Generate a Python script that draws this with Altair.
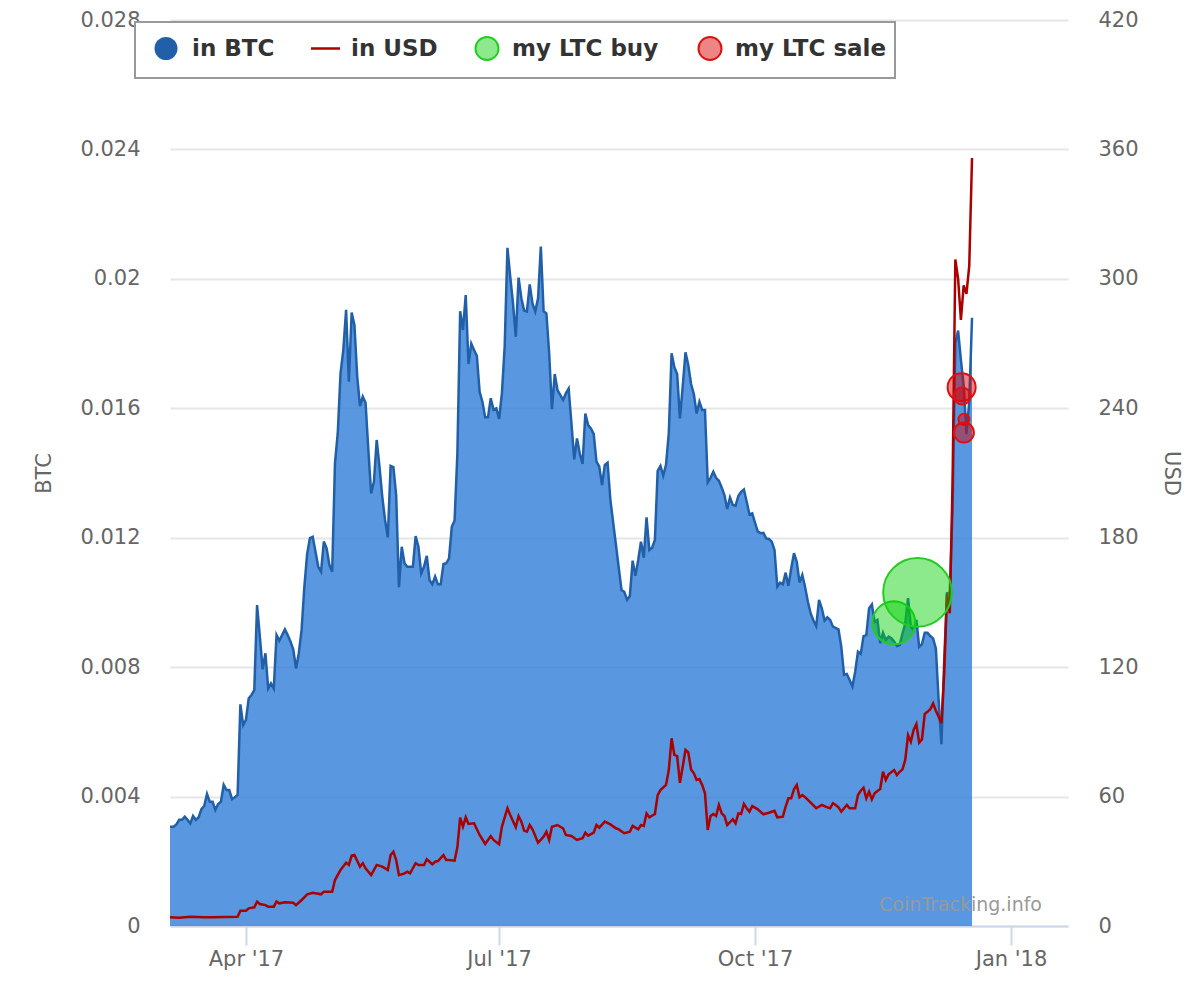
import altair as alt
import pandas as pd

# ---------------- data (days counted from 2017-03-01) ----------------
btc_days = [3.7, 5, 6, 7, 8, 9, 10, 11, 12, 13, 14, 15, 16, 17, 18, 19, 20, 21, 22, 23, 24, 25, 26, 27, 28,
            29, 30, 31, 32, 33, 34, 35, 36, 37, 38, 39, 40, 41, 42, 43, 44, 45, 46, 47, 48, 49, 50, 51, 52,
            53, 54, 55, 57, 58, 59, 60, 61, 62, 63, 64, 65, 66, 67, 68, 69, 70, 71, 72, 73, 74, 75, 76, 77,
            78, 79, 80, 81, 82, 83, 84, 85, 86, 87, 88, 89, 91, 92, 93, 94, 95, 96, 97, 98, 99, 100, 101,
            102, 103, 104, 105, 106, 107, 108, 109, 110, 111, 112, 113, 114, 115, 116, 117, 118, 119, 120,
            121, 122, 123, 124, 125, 126, 127, 128, 129, 130, 131, 132, 133, 134, 135, 136, 137, 138, 139,
            140, 141, 142, 143, 144, 145, 146, 147, 148, 149, 150, 151, 152, 153, 154, 155, 156, 157, 158,
            159, 160, 161, 162, 164, 166, 167, 168, 169, 170, 171, 172, 173, 174, 175, 176, 177, 178, 179,
            180, 181, 182, 183, 184, 185, 186, 187, 188, 189, 190, 191, 192, 193, 194, 195, 196, 197, 198,
            199, 200, 201, 202, 203, 204, 205, 206, 207, 208, 209, 210, 211, 212, 213, 214, 215, 216, 217,
            218, 219, 220, 221, 222, 223, 224, 225, 226, 227, 228, 229, 230, 231, 232, 233, 234, 235, 236,
            237, 238, 239, 240, 241, 242, 244, 245, 246, 247, 248, 249, 250, 251, 252, 253, 254, 255, 256,
            257, 258, 259, 260, 261, 262, 263, 264, 265, 266, 267, 268, 269, 270, 271, 272, 273, 274, 275,
            276, 277, 278, 279, 280, 281, 282, 283, 284, 285, 286, 287, 288, 289, 290, 291, 292]
btc_values = [0.00307, 0.00307, 0.00314, 0.00328, 0.00328, 0.00338, 0.00328, 0.00317, 0.0034, 0.00328,
              0.00336, 0.00361, 0.00371, 0.00408, 0.00384, 0.00384, 0.00359, 0.00377, 0.00384, 0.00436,
              0.0042, 0.0042, 0.00392, 0.00398, 0.00405, 0.00685, 0.00621, 0.00637, 0.00704, 0.00714,
              0.00729, 0.00992, 0.00894, 0.00793, 0.00843, 0.00734, 0.0075, 0.00734, 0.00899, 0.00882,
              0.00899, 0.00917, 0.00899, 0.00879, 0.00855, 0.00796, 0.00843, 0.00915, 0.01049, 0.0115,
              0.01199, 0.01203, 0.0111, 0.01095, 0.01188, 0.01167, 0.01116, 0.01095, 0.0143, 0.01523,
              0.01708, 0.0178, 0.01904, 0.01682, 0.01896, 0.01857, 0.01698, 0.01607, 0.01636, 0.01617,
              0.01471, 0.01337, 0.01373, 0.01502, 0.0142, 0.01327, 0.01255, 0.01201, 0.01422, 0.01418,
              0.01332, 0.01047, 0.01172, 0.01121, 0.0111, 0.0111, 0.01205, 0.01172, 0.0109, 0.0111,
              0.01144, 0.01069, 0.01056, 0.0108, 0.01056, 0.01056, 0.01119, 0.01121, 0.01136, 0.01234,
              0.01253, 0.0146, 0.019, 0.01842, 0.0195, 0.01737, 0.018, 0.0178, 0.01762, 0.01651, 0.0162,
              0.01572, 0.01572, 0.01631, 0.01595, 0.016, 0.01567, 0.01646, 0.0179, 0.02096, 0.02007,
              0.01924, 0.01821, 0.02004, 0.0194, 0.01902, 0.01899, 0.01983, 0.01924, 0.01899, 0.0194,
              0.021, 0.019, 0.01893, 0.0177, 0.01597, 0.01706, 0.01656, 0.01641, 0.01626, 0.01646,
              0.01661, 0.01554, 0.01442, 0.01507, 0.0146, 0.01428, 0.01584, 0.01548, 0.01538, 0.01521,
              0.01435, 0.0142, 0.01363, 0.01425, 0.01432, 0.01317, 0.01178, 0.01038, 0.01033, 0.01008,
              0.0102, 0.01129, 0.01082, 0.01131, 0.01188, 0.01138, 0.01263, 0.01162, 0.01169, 0.01193,
              0.01407, 0.01422, 0.01392, 0.01425, 0.01523, 0.0177, 0.01727, 0.01706, 0.01569, 0.01667,
              0.01773, 0.01734, 0.01675, 0.01644, 0.01584, 0.0162, 0.01595, 0.01595, 0.01371, 0.01385,
              0.01404, 0.01385, 0.01376, 0.01355, 0.01332, 0.01289, 0.01324, 0.01301, 0.01299, 0.01329,
              0.01342, 0.01349, 0.01311, 0.01272, 0.01275, 0.01246, 0.01219, 0.01214, 0.01215, 0.01198,
              0.01196, 0.01188, 0.01162, 0.01049, 0.01061, 0.01056, 0.01092, 0.01051, 0.01105, 0.01152,
              0.01126, 0.01061, 0.01085, 0.01047, 0.01002, 0.00966, 0.00944, 0.00927, 0.01008, 0.00982,
              0.00944, 0.00954, 0.00946, 0.00925, 0.00917, 0.00863, 0.00776, 0.00779, 0.0076, 0.0074,
              0.00786, 0.00848, 0.00841, 0.00896, 0.00899, 0.00982, 0.00994, 0.0094, 0.00946, 0.00874,
              0.00906, 0.00884, 0.00894, 0.00889, 0.00879, 0.00865, 0.00868, 0.00904, 0.00935, 0.01013,
              0.00925, 0.00915, 0.00946, 0.00863, 0.00871, 0.00906, 0.00906, 0.00896, 0.00889, 0.00858,
              0.00698, 0.00562, 0.00822, 0.01028, 0.0103, 0.0129, 0.018, 0.0184, 0.0175, 0.0167, 0.0152,
              0.0162, 0.0188]

usd_days = [3.7, 7, 11, 16, 19, 28, 29, 31, 32, 34, 35, 36, 38, 39, 41, 42, 43, 45, 48, 49, 51, 53, 55, 58,
            59, 62, 63, 65, 67, 68, 69, 70, 72, 73, 74, 76, 78, 80, 82, 83, 84, 85, 86, 88, 89, 90, 92, 93,
            95, 96, 97, 98, 99, 100, 102, 103, 104, 106, 107, 108, 109, 110, 111, 113, 115, 117, 119, 120,
            122, 123, 125, 126, 128, 129, 130, 131, 132, 133, 134, 136, 138, 139, 140, 141, 143, 144, 145,
            146, 148, 150, 152, 153, 154, 156, 157, 158, 160, 162, 164, 165, 167, 169, 170, 172, 173, 174,
            175, 176, 178, 179, 180, 182, 183, 184, 185, 186, 187, 188, 189, 190, 191, 192, 193, 194, 195,
            196, 197, 198, 199, 200, 201, 202, 203, 204, 205, 206, 207, 208, 209, 210, 211, 212, 213, 215,
            217, 219, 221, 222, 224, 225, 226, 227, 228, 229, 230, 231, 232, 234, 236, 238, 240, 241, 242,
            243, 244, 245, 246, 247, 248, 250, 251, 252, 253, 254, 255, 256, 257, 258, 259, 260, 261, 262,
            264, 265, 266, 267, 268, 269, 270, 271, 272, 273, 274, 275, 276, 277, 278, 279, 280, 281, 282,
            283, 284, 285, 286, 287, 288, 289, 290, 291, 292]
usd_values = [4.03, 3.86, 4.33, 4.0, 4.0, 4.33, 7.1, 7.1, 8.2, 8.66, 11.3, 10.2, 9.7, 8.96, 8.96, 11.3,
              10.5, 11.0, 10.8, 9.7, 12.05, 14.7, 15.4, 14.7, 15.9, 15.9, 21.3, 26, 29.3, 28.3, 32.6, 32.9,
              27.5, 29.1, 26.7, 23.6, 28.3, 27.5, 26, 32.9, 34.4, 30.6, 23.6, 24.4, 25.2, 24.4, 29.1, 28.3,
              28.3, 30.9, 29.8, 28.6, 29.8, 30.1, 32.9, 30.6, 30.6, 30.3, 36.5, 50.2, 46, 50.4, 47.3, 47.6,
              42.2, 38, 41.7, 39.9, 37.9, 46, 54.6, 51.5, 45.8, 51, 48.4, 44.2, 43.7, 46.8, 44.8, 38.6,
              41.4, 43.7, 39.9, 46, 46.8, 46, 45.3, 42.2, 41.7, 39.9, 40.7, 43.3, 41.9, 43.3, 46.8, 45.6,
              48.4, 47.1, 45.3, 44.8, 43, 43.7, 46.4, 44.8, 46.8, 46.4, 52.2, 50.4, 51.9, 60.7, 63, 65.4,
              72.3, 87, 79.3, 78.8, 66.4, 73.8, 81.6, 80.5, 72.6, 70.8, 67.7, 68.1, 65.4, 61.5, 44.5, 51,
              51.9, 51, 56.1, 52.2, 51, 46.8, 48.1, 49.5, 47.6, 52.2, 51.9, 56.6, 54.6, 53, 55.6, 54.1,
              51.8, 52.5, 53.4, 50.4, 50.7, 55.3, 59.2, 59.2, 63.4, 65.4, 59.7, 60.7, 59.7, 57.2, 54.6,
              56.1, 55, 54.6, 56.9, 56.1, 55, 53, 54.6, 56.1, 54.6, 54.6, 60.7, 62.7, 64.1, 59.2, 62.3,
              58.7, 61.5, 62.6, 63.5, 71.5, 67.7, 70.3, 72.3, 70, 71.5, 72.6, 77, 88.5, 85.4, 90.9, 93.6,
              85, 86.5, 98.3, 99.3, 100.5, 103.2, 99.8, 97, 94, 117, 154, 145, 205, 309, 300, 281, 297,
              293, 306, 356]

buy_days = [263.9, 272.4]
buy_btc = [0.00937, 0.01031]
buy_amount = [3.93, 10.0]

sale_days = [288.26, 288.47, 289.08, 289.08]
sale_btc = [0.01665, 0.01638, 0.01566, 0.01525]
sale_amount = [1.67, 0.61, 0.26, 0.85]

btc_ticks = [0, 0.004, 0.008, 0.012, 0.016, 0.02, 0.024, 0.028]
usd_ticks = [0, 60, 120, 180, 240, 300, 360, 420]
month_ticks = ["2017-04-01", "2017-07-01", "2017-10-01", "2018-01-01"]
x_start_day = 3.7
x_end_day = 326.5
legend_labels = ["in BTC", "in USD", "my LTC buy", "my LTC sale"]
watermark = "CoinTracking.info"

# ---------------- helpers ----------------
origin = pd.Timestamp("2017-03-01")


def iso(days):
    return [(origin + pd.Timedelta(days=float(d))).strftime("%Y-%m-%dT%H:%M:%SZ") for d in days]


def ms(ts):
    return int(pd.Timestamp(ts).value // 10**6)


btc_df = pd.DataFrame({"date": iso(btc_days), "btc": btc_values})
usd_df = pd.DataFrame({"date": iso(usd_days), "usd": usd_values})
buy_df = pd.DataFrame({"date": iso(buy_days), "btc": buy_btc, "amount": buy_amount})
sale_df = pd.DataFrame({"date": iso(sale_days), "btc": sale_btc, "amount": sale_amount})
legend_df = pd.DataFrame({"label": legend_labels})
mark_df = pd.DataFrame({"label": [watermark]})

W, H = 898, 906
FONT = "DejaVu Sans"
LABEL = "#666666"

x_scale = alt.Scale(type="utc",
                    domain=[ms(origin + pd.Timedelta(days=x_start_day)),
                            ms(origin + pd.Timedelta(days=x_end_day))])
x_axis = alt.Axis(values=[ms(t) for t in month_ticks], format="%b '%y", title=None, grid=False,
                  domainColor="#ccd6eb", domainWidth=2, tickColor="#ccd6eb", tickWidth=2,
                  tickSize=19, labelPadding=3, labelFlush=False, labelOverlap=False)
X = alt.X("date:T", scale=x_scale, axis=x_axis)

btc_scale = alt.Scale(domain=[0, 0.028], nice=False, zero=True)
usd_scale = alt.Scale(domain=[0, 420], nice=False, zero=True)
size_scale = alt.Scale(domain=[0, 10], range=[0, 4706], zero=True)

left_axis = alt.Axis(values=btc_ticks, format="~f", grid=True, gridColor="#e6e6e6", gridWidth=2,
                     domain=False, ticks=False, labelPadding=30, labelFlush=False,
                     title="BTC", titleX=-126, titleY=453, titleAngle=270,
                     titleAlign="center", titleBaseline="middle")
right_axis = alt.Axis(orient="right", values=usd_ticks, grid=False, domain=False, ticks=False,
                      labelPadding=30, labelFlush=False,
                      title="USD", titleX=102, titleY=453, titleAngle=90,
                      titleAlign="center", titleBaseline="middle")

area = alt.Chart(btc_df).mark_area(color="#2f7ed8", fillOpacity=0.8).encode(
    x=X, y=alt.Y("btc:Q", scale=btc_scale, axis=left_axis))
btc_line = alt.Chart(btc_df).mark_line(color="#2160a8", strokeWidth=2.5).encode(
    x=X, y=alt.Y("btc:Q", scale=btc_scale, axis=None))
usd_line = alt.Chart(usd_df).mark_line(color="#aa0000", strokeWidth=2.5).encode(
    x=X, y=alt.Y("usd:Q", scale=usd_scale, axis=right_axis))

buys = alt.Chart(buy_df).mark_circle(fill="#00d000", fillOpacity=0.45, stroke="#22cc22",
                                     strokeWidth=2, opacity=1).encode(
    x=X, y=alt.Y("btc:Q", scale=btc_scale, axis=None),
    size=alt.Size("amount:Q", scale=size_scale, legend=None))
sales = alt.Chart(sale_df).mark_circle(fill="#d90000", fillOpacity=0.48, stroke="#dd1111",
                                       strokeWidth=2, opacity=1).encode(
    x=X, y=alt.Y("btc:Q", scale=btc_scale, axis=None),
    size=alt.Size("amount:Q", scale=size_scale, legend=None))

# ---------------- legend box ----------------
leg_y = 28.5
box = alt.Chart(legend_df.head(1)).mark_rect(fill="white", stroke="#999999", strokeWidth=2).encode(
    x=alt.value(-35), x2=alt.value(725), y=alt.value(2), y2=alt.value(58))


def pick(i):
    return alt.Chart(legend_df).transform_filter(alt.datum.label == legend_labels[i])


leg_btc = pick(0).mark_circle(size=529, color="#2160a8", opacity=1).encode(
    x=alt.value(-4), y=alt.value(leg_y))
leg_usd = pick(1).mark_rule(color="#aa0000", strokeWidth=2.5).encode(
    x=alt.value(141), x2=alt.value(170), y=alt.value(leg_y))
leg_buy = pick(2).mark_circle(size=529, fill="#00d000", fillOpacity=0.45, stroke="#22cc22",
                              strokeWidth=2, opacity=1).encode(x=alt.value(317), y=alt.value(leg_y))
leg_sale = pick(3).mark_circle(size=529, fill="#d90000", fillOpacity=0.48, stroke="#dd1111",
                               strokeWidth=2, opacity=1).encode(x=alt.value(540), y=alt.value(leg_y))

leg_texts = []
for i, xpos in enumerate([22, 181, 342, 565]):
    leg_texts.append(pick(i).mark_text(align="left", baseline="middle", font=FONT, fontSize=23,
                                       fontWeight="bold", color="#333333").encode(
        x=alt.value(xpos), y=alt.value(leg_y), text="label:N"))

mark_txt = alt.Chart(mark_df).mark_text(align="left", baseline="alphabetic", font=FONT, fontSize=19,
                                        color="#999999").encode(
    x=alt.value(709), y=alt.value(891), text="label:N")

chart = alt.layer(area, btc_line, usd_line, buys, sales, box, leg_btc, leg_usd, leg_buy, leg_sale,
                  *leg_texts, mark_txt).resolve_scale(y="independent").properties(
    width=W, height=H,
    autosize=alt.AutoSizeParams(type="none"),
    padding={"left": 162, "top": 12, "right": 120, "bottom": 60},
).configure_view(stroke=None).configure_axis(
    labelFont=FONT, labelFontSize=21, labelColor=LABEL,
    titleFont=FONT, titleFontSize=21, titleColor=LABEL, titleFontWeight="normal")

chart.save("out.html", embed_options={"renderer": "svg", "actions": False})
